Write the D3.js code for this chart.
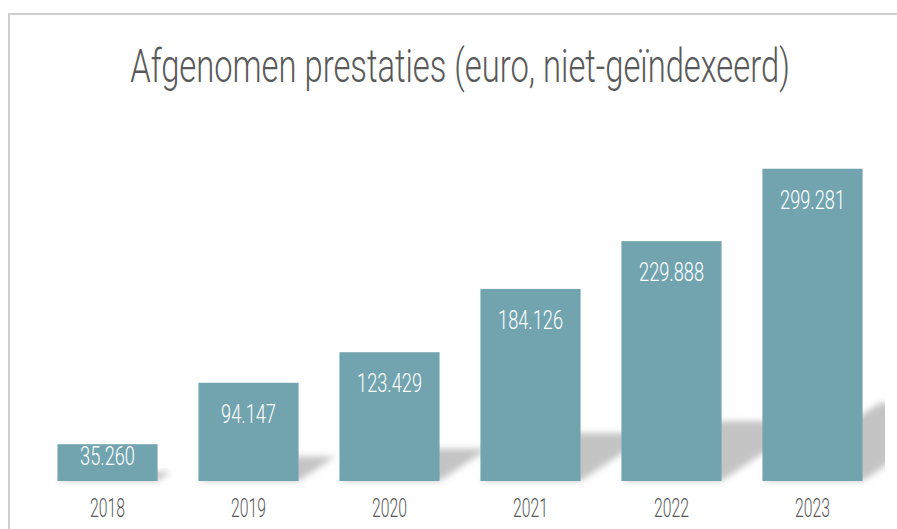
<!DOCTYPE html>
<html>
<head>
<meta charset="utf-8">
<script src="https://cdn.jsdelivr.net/npm/d3@7"></script>
<style>
  html, body { margin: 0; padding: 0; background: #ffffff; }
  svg { display: block; }
</style>
</head>
<body>
<div id="chart"></div>
<script>
// ---- data ----
const title = "Afgenomen prestaties (euro, niet-geïndexeerd)";
const years = ["2018", "2019", "2020", "2021", "2022", "2023"];
const values = [35260, 94147, 123429, 184126, 229888, 299281];
const valueLabels = ["35.260", "94.147", "123.429", "184.126", "229.888", "299.281"];

const W = 897, H = 529;
const FONT = "Roboto, 'Noto Sans', sans-serif";
const barColor = "#72a4af";
const textGray = "#595959";

const svg = d3.select("#chart").append("svg")
  .attr("width", W).attr("height", H);

// frame (top + left border lines)
svg.append("rect")
  .attr("x", 9).attr("y", 14)
  .attr("width", W + 20).attr("height", H + 20)
  .attr("fill", "none")
  .attr("stroke", "#cfcfcf")
  .attr("stroke-width", 2);

const base = 481;
const x = d3.scaleBand()
  .domain(years)
  .range([37, 883])
  .paddingInner(0.29)
  .paddingOuter(0.145);

const y = d3.scaleLinear()
  .domain([0, 300000])
  .range([base, 168]);

const defs = svg.append("defs");
defs.append("filter").attr("id", "blur")
  .attr("x", "-20%").attr("y", "-40%").attr("width", "140%").attr("height", "180%")
  .append("feGaussianBlur").attr("stdDeviation", 3.2);
defs.append("clipPath").attr("id", "plotclip")
  .append("rect").attr("x", 10).attr("y", 15).attr("width", 875).attr("height", 470);

const data = years.map((yr, i) => ({ year: yr, value: values[i], label: valueLabels[i] }));

// shadows (sheared, flattened copies of bars)
const shadowG = svg.append("g").attr("clip-path", "url(#plotclip)");
shadowG.selectAll("path.shadow")
  .data(data)
  .join("path")
  .attr("class", "shadow")
  .attr("fill", "#c4c4c4")
  .attr("filter", "url(#blur)")
  .attr("d", d => {
    const x0 = x(d.year), x1 = x0 + x.bandwidth();
    const h = base - y(d.value);
    const sh = h * 0.25, dx = sh * 1.5;
    return `M${x0},${base}L${x1},${base}L${x1 + dx},${base - sh}L${x0 + dx},${base - sh}Z`;
  });

// bars
svg.selectAll("rect.bar")
  .data(data)
  .join("rect")
  .attr("class", "bar")
  .attr("x", d => x(d.year))
  .attr("y", d => y(d.value))
  .attr("width", x.bandwidth())
  .attr("height", d => base - y(d.value))
  .attr("fill", barColor);

// helper for condensed text
function condensed(sel, sx) {
  sel.attr("transform", function () {
    const tx = +this.getAttribute("data-x"), ty = +this.getAttribute("data-y");
    return `translate(${tx},${ty}) scale(${sx},1)`;
  });
}

// title
const t = svg.append("text")
  .attr("data-x", 460).attr("data-y", 82)
  .attr("text-anchor", "middle")
  .attr("font-family", FONT)
  .attr("font-weight", 300)
  .attr("font-size", 46)
  .attr("fill", textGray)
  .text(title);
const tw = t.node().getComputedTextLength();
condensed(t, 660 / tw);

// value labels
const vl = svg.selectAll("text.vlabel")
  .data(data)
  .join("text")
  .attr("class", "vlabel")
  .attr("data-x", d => x(d.year) + x.bandwidth() / 2)
  .attr("data-y", d => {
    const top = y(d.value);
    return (base - top) < 60 ? top + 21 : top + 40;
  })
  .attr("text-anchor", "middle")
  .attr("font-family", FONT)
  .attr("font-weight", 300)
  .attr("font-size", 26)
  .attr("fill", "#ffffff")
  .text(d => d.label);
const lw = vl.filter(d => d.year === "2023").node().getComputedTextLength();
condensed(vl, 65 / lw);

// x axis labels
const xa = svg.append("g")
  .attr("transform", `translate(0,${base})`)
  .call(d3.axisBottom(x).tickSize(0).tickPadding(0));
xa.select(".domain").remove();
xa.selectAll("text").remove();
const yl = svg.selectAll("text.year")
  .data(years)
  .join("text")
  .attr("class", "year")
  .attr("data-x", d => x(d) + x.bandwidth() / 2)
  .attr("data-y", base + 36)
  .attr("text-anchor", "middle")
  .attr("font-family", FONT)
  .attr("font-weight", 300)
  .attr("font-size", 25)
  .attr("fill", textGray)
  .text(d => d);
const yw = yl.filter(d => d === "2018").node().getComputedTextLength();
condensed(yl, 35 / yw);
</script>
</body>
</html>
